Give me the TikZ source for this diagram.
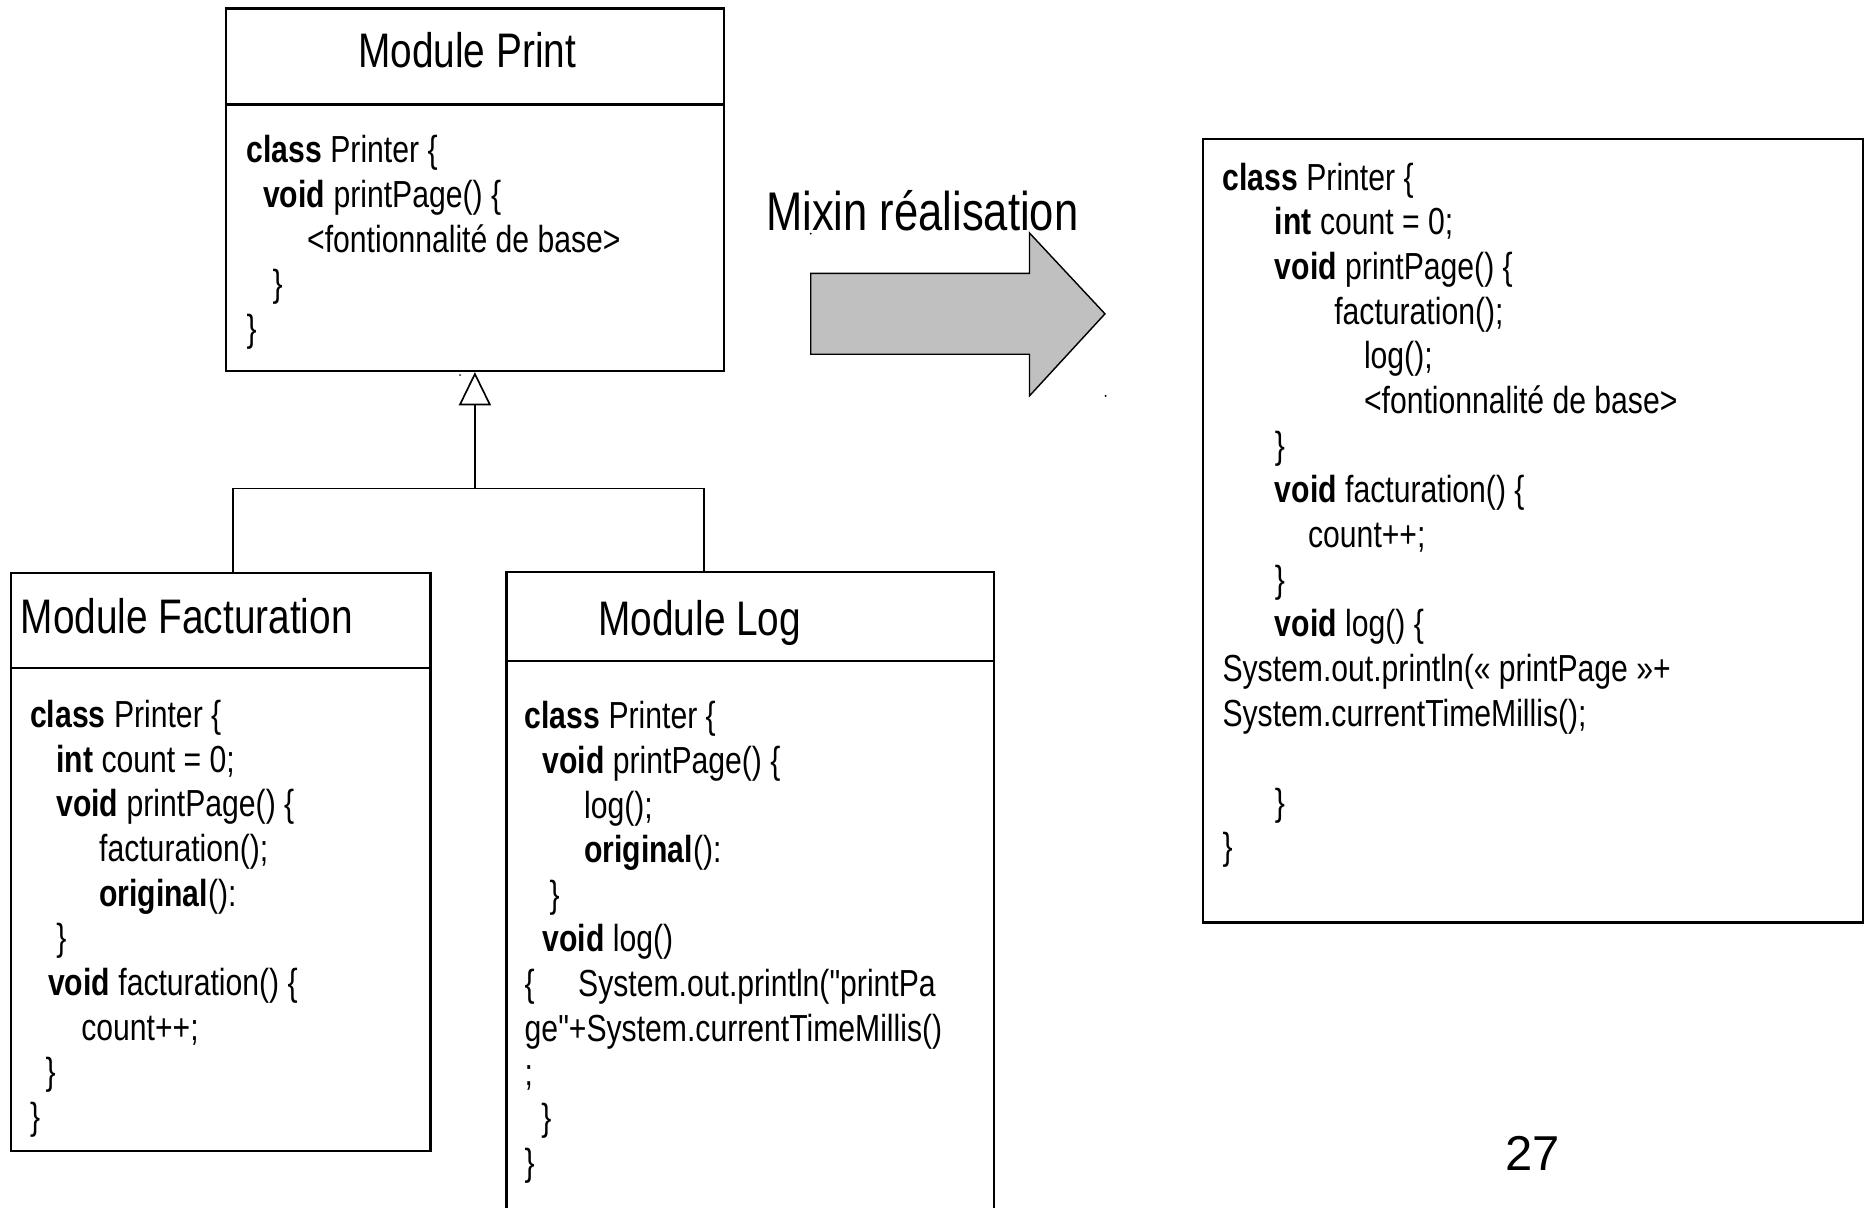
\documentclass[tikz,border=0pt]{standalone}
\usepackage{fontspec}
\setmainfont{Liberation Sans}[FakeStretch=0.8, Ligatures=TeXOff]
\newfontfamily\numfont{Liberation Sans}
\usetikzlibrary{arrows.meta,fit}

\newdimen\pxu
\pxu=0.5pt
\newcommand\cind[1]{\hspace*{#1\pxu}}
\newcommand\codesize{\fontsize{15.85pt}{18.78pt}\selectfont}
\newcommand\titlesize{\fontsize{20.4pt}{24pt}\selectfont}
% code lines: first baseline sits on the node's base anchor
\newcommand\codeblock[1]{\begin{tabular}[t]{@{}l@{}}#1\end{tabular}}

\tikzset{
  boxline/.style={line width=1pt},
  link/.style={line width=0.7pt},
  umlbox/.style={draw, boxline, inner sep=0pt},
  code/.style={anchor=base west, inner sep=0pt, font=\codesize},
  title/.style={inner sep=0pt, font=\titlesize},
}

\begin{document}
\begin{tikzpicture}[x=0.5pt, y=-0.5pt]
\useasboundingbox (0,0) rectangle (1568,1016);

% ---- Module Print ----
\node[umlbox, fit={(190,7) (609,312)}] (print) {};
\draw[boxline] (print.west |- 0,88) -- (print.east |- 0,88);
\node[title, anchor=base] (printtitle) at (393,57) {Module Print};
\node[code] (printcode) at (207,137) {\codeblock{%
\textbf{class} Printer \{\\
\cind{14}\textbf{void} printPage() \{\\
\cind{51}<fontionnalité de base>\\
\cind{22}\}\\
\}}};

% ---- Module Facturation ----
\node[umlbox, fit={(9,482) (362,968)}] (fact) {};
\draw[boxline] (fact.west |- 0,562) -- (fact.east |- 0,562);
\node[title, anchor=base west] (facttitle) at (17,533) {Module Facturation};
\node[code] (factcode) at (25,612) {\codeblock{%
\textbf{class} Printer \{\\
\cind{22}\textbf{int} count = 0;\\
\cind{22}\textbf{void} printPage() \{\\
\cind{58}facturation();\\
\cind{58}\textbf{original}():\\
\cind{22}\}\\
\cind{15}\textbf{void} facturation() \{\\
\cind{43}count++;\\
\cind{13}\}\\
\}}};

% ---- Module Log (runs past the lower edge) ----
\coordinate (logNW) at (426,481);
\coordinate (logNE) at (836,481);
\coordinate (logSW) at (426,1030);
\coordinate (logSE) at (836,1030);
\draw[boxline] (logSW) -- (logNW) -- (logNE) -- (logSE);
\draw[boxline] (logNW |- 0,556) -- (logNE |- 0,556);
\node[title, anchor=base west] (logtitle) at (503,535) {Module Log};
\node[code] (logcode) at (441,613) {\codeblock{%
\textbf{class} Printer \{\\
\cind{15}\textbf{void} printPage() \{\\
\cind{50}log();\\
\cind{50}\textbf{original}():\\
\cind{21}\}\\
\cind{15}\textbf{void} log()\\
\makebox[45\pxu][l]{\{}System.out.println("printPa\\
ge"+System.currentTimeMillis()\\
;\\
\cind{14}\}\\
\}}};

% ---- inheritance links ----
\coordinate (hub) at (399.5,411);
\coordinate (factTop) at (196,482);
\coordinate (logTop) at (592,481);
\draw[link] (factTop) |- (hub) -| (logTop);
\draw[link, -{Triangle[open, length=14pt, width=13.5pt, line width=0.7pt]}] (hub) -- (print.south);
\fill (387,315.5) circle (0.8);

% ---- transformation arrow ----
\node[title, anchor=base west, font=\fontsize{22.9pt}{26pt}\selectfont] (mixin) at (644,194) {Mixin réalisation};
\draw[line width=0.6pt, fill={rgb,255:red,192;green,192;blue,192}]
  (682,230) -- (866,230) -- (866,196) -- (929.5,264) -- (866,333) -- (866,298) -- (682,298) -- cycle;
\fill (682,196.5) circle (0.9);
\fill (930,333) circle (0.9);

% ---- merged class ----
\node[umlbox, fit={(1012,117) (1567,776)}] (merged) {};
\node[code] (mergedcode) at (1028,160) {\codeblock{%
\textbf{class} Printer \{\\
\cind{44}\textbf{int} count = 0;\\
\cind{44}\textbf{void} printPage() \{\\
\cind{94}facturation();\\
\cind{119}log();\\
\cind{119}<fontionnalité de base>\\
\cind{44}\}\\
\cind{44}\textbf{void} facturation() \{\\
\cind{72}count++;\\
\cind{44}\}\\
\cind{44}\textbf{void} log() \{\\
System.out.println(« printPage »+\\
System.currentTimeMillis();\\
\\
\cind{44}\}\\
\}}};

% ---- slide number ----
\node[inner sep=0pt, anchor=base, font=\numfont\fontsize{20.6pt}{24pt}\selectfont] (pagenum) at (1289,985) {27};
\end{tikzpicture}
\end{document}
